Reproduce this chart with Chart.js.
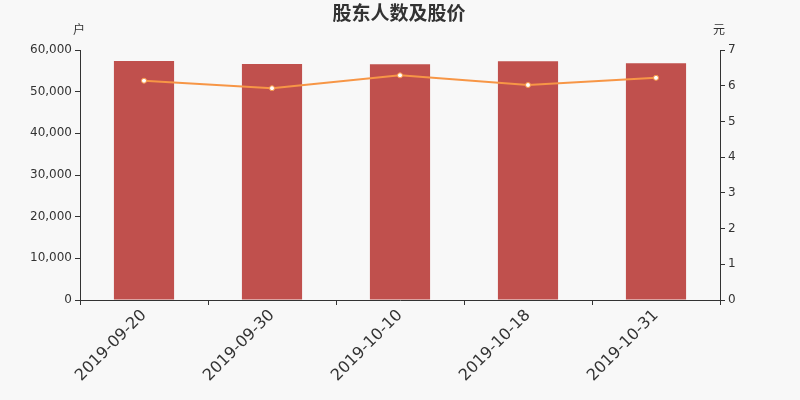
<!DOCTYPE html>
<html>
<head>
<meta charset="utf-8">
<script src="https://cdn.jsdelivr.net/npm/chart.js@4/dist/chart.umd.min.js"></script>
<style>
    html, body { margin: 0; padding: 0; background: #f8f8f8; }
    #wrap { width: 800px; height: 400px; }
</style>
</head>
<body>
<div id="wrap"><canvas id="chart" width="800" height="400"></canvas></div>
<script>
const categories = ['2019-09-20', '2019-09-30', '2019-10-10', '2019-10-18', '2019-10-31'];
const holders = [57360, 56640, 56560, 57280, 56800];
const prices = [6.14, 5.93, 6.29, 6.02, 6.22];
const leftTicks = [0, 10000, 20000, 30000, 40000, 50000, 60000];
const rightTicks = [0, 1, 2, 3, 4, 5, 6, 7];

const textColor = '#333';

// background, title and unit labels
const decor = {
    id: 'decor',
    beforeDraw(chart) {
        const ctx = chart.ctx;
        ctx.save();
        ctx.fillStyle = '#f8f8f8';
        ctx.fillRect(0, 0, chart.width, chart.height);
        ctx.restore();
    },
    afterDraw(chart) {
        const ctx = chart.ctx;
        ctx.save();
        ctx.fillStyle = textColor;
        ctx.textAlign = 'center';
        ctx.textBaseline = 'middle';
        ctx.font = 'bold 19px "Noto Sans CJK SC"';
        ctx.fillText('股东人数及股价', 399, 13);
        ctx.font = '12px "Noto Sans CJK SC"';
        ctx.fillText('户', 79, 29);
        ctx.fillText('元', 719, 29);
        ctx.restore();
    }
};

const ctx = document.getElementById('chart').getContext('2d');
new Chart(ctx, {
    data: {
        labels: categories,
        datasets: [{
            type: 'line',
            data: prices,
            yAxisID: 'y1',
            borderColor: '#f79646',
            borderWidth: 2,
            pointRadius: 2.5,
            pointBackgroundColor: '#ffffff',
            pointBorderColor: '#f79646',
            pointBorderWidth: 1,
            tension: 0,
            order: 0
        }, {
            type: 'bar',
            data: holders,
            yAxisID: 'y',
            backgroundColor: '#c0504d',
            barPercentage: 0.47,
            categoryPercentage: 1,
            order: 1
        }]
    },
    options: {
        responsive: false,
        devicePixelRatio: 1,
        animation: false,
        layout: { padding: { top: 50, left: 0, right: 0, bottom: 0 } },
        plugins: {
            legend: { display: false },
            tooltip: { enabled: false },
            title: { display: false }
        },
        scales: {
            x: {
                grid: { offset: true, drawOnChartArea: false, tickLength: 5, color: textColor },
                border: { color: textColor },
                ticks: {
                    color: textColor,
                    font: { family: 'DejaVu Sans', size: 16 },
                    minRotation: 45,
                    maxRotation: 45,
                    padding: 1
                },
                afterFit(scale) { scale.height = 100; }
            },
            y: {
                position: 'left',
                min: 0,
                max: 60000,
                grid: { drawOnChartArea: false, tickLength: 5, color: textColor },
                border: { color: textColor },
                afterBuildTicks(scale) { scale.ticks = leftTicks.map(v => ({ value: v })); },
                ticks: {
                    color: textColor,
                    font: { family: 'DejaVu Sans', size: 12 },
                    padding: 3,
                    callback: v => v.toLocaleString('en-US')
                },
                afterFit(scale) { scale.width = 80; }
            },
            y1: {
                position: 'right',
                min: 0,
                max: 7,
                grid: { drawOnChartArea: false, tickLength: 5, color: textColor },
                border: { color: textColor },
                afterBuildTicks(scale) { scale.ticks = rightTicks.map(v => ({ value: v })); },
                ticks: {
                    color: textColor,
                    font: { family: 'DejaVu Sans', size: 12 },
                    padding: 3
                },
                afterFit(scale) { scale.width = 80; }
            }
        }
    },
    plugins: [decor]
});
</script>
</body>
</html>
